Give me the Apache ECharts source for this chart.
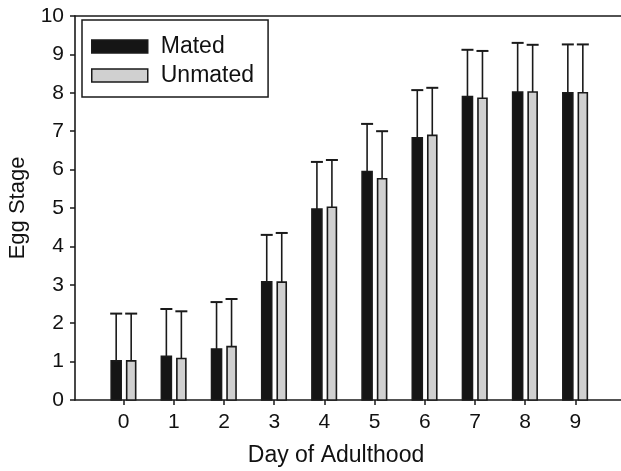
<!DOCTYPE html>
<html><head><meta charset="utf-8">
<script src="https://cdn.jsdelivr.net/npm/echarts@6/dist/echarts.min.js"></script>
<style>html,body{margin:0;padding:0;background:#fff}#c{width:621px;height:471px}</style>
</head><body><div id="c"></div>
<script>
var days = [0,1,2,3,4,5,6,7,8,9];
var matedMean = [1.02,1.14,1.33,3.08,4.97,5.95,6.83,7.90,8.02,8.00];
var matedSD   = [1.23,1.23,1.22,1.22,1.23,1.24,1.24,1.22,1.28,1.26];
var unmatedMean = [1.02,1.08,1.39,3.07,5.02,5.76,6.89,7.86,8.02,8.00];
var unmatedSD   = [1.23,1.23,1.24,1.28,1.23,1.24,1.24,1.23,1.23,1.26];
var yTicks = [0,1,2,3,4,5,6,7,8,9,10];

var FONT = '"Liberation Sans", Arial, sans-serif';
function mk(means, sds){ return days.map(function(d,i){return [d, means[i], sds[i]];}); }
function renderer(offset, fill, width){
  return function(params, api){
    var d = api.value(0), m = api.value(1), s = api.value(2);
    var base = api.coord([d, 0]);
    var top = api.coord([d, m]);
    var cap = api.coord([d, m + s]);
    var cx = base[0] + offset;
    return {type:'group', children:[
      {type:'line', shape:{x1:cx, y1:top[1], x2:cx, y2:cap[1]}, style:{stroke:'#1a1a1a', lineWidth:1.6}},
      {type:'line', shape:{x1:cx-6, y1:cap[1], x2:cx+6, y2:cap[1]}, style:{stroke:'#1a1a1a', lineWidth:2}},
      {type:'rect', shape:{x:cx-width/2, y:top[1], width:width, height:base[1]-top[1]}, style:{fill:fill, stroke:'#1a1a1a', lineWidth:1.6}}
    ]};
  };
}
var chart = echarts.init(document.getElementById('c'));
chart.setOption({
  animation:false,
  grid:{left:75, right:0, top:16, bottom:71, containLabel:false, outerBoundsMode:'none'},
  legend:{
    left:82, top:20, orient:'vertical',
    padding:[15, 14, 10, 9],
    borderColor:'#1a1a1a', borderWidth:1.5,
    itemWidth:56, itemHeight:13, itemGap:6,
    icon:'rect',
    textStyle:{fontFamily:FONT, fontSize:23, color:'#111', padding:[0,0,0,8]},
    itemStyle:{borderColor:'#1a1a1a', borderWidth:1.5},
    data:['Mated','Unmated']
  },
  xAxis:[{
    type:'value', min:-0.97, max:9.91,
    name:'Day of Adulthood', nameLocation:'middle', nameGap:44,
    nameTextStyle:{fontFamily:FONT, fontSize:23, color:'#111', padding:[0,24,0,0]},
    axisLine:{show:true, onZero:false, lineStyle:{color:'#1a1a1a', width:1.6}},
    axisTick:{show:true, customValues:days, length:5, lineStyle:{color:'#1a1a1a', width:1.5}},
    axisLabel:{customValues:days, fontFamily:FONT, fontSize:21, color:'#111', margin:12},
    splitLine:{show:false}
  },{
    type:'value', position:'top', min:-0.97, max:9.91,
    axisLine:{show:true, onZero:false, lineStyle:{color:'#1a1a1a', width:1.6}},
    axisTick:{show:false}, axisLabel:{show:false}, splitLine:{show:false}
  }],
  yAxis:{
    type:'value', min:0, max:10, interval:1,
    name:'Egg Stage', nameLocation:'middle', nameGap:46,
    nameTextStyle:{fontFamily:FONT, fontSize:22, color:'#111'},
    axisLine:{show:true, onZero:false, lineStyle:{color:'#1a1a1a', width:1.6}},
    axisTick:{show:true, inside:false, length:5, lineStyle:{color:'#1a1a1a', width:1.5}},
    axisLabel:{fontFamily:FONT, fontSize:21, color:'#111', margin:11,
      formatter:function(v){return yTicks.indexOf(v)>=0 ? String(v) : '';}},
    splitLine:{show:false}
  },
  series:[
    {name:'Mated', type:'custom', xAxisIndex:0, renderItem:renderer(-7.5, '#151515', 10), itemStyle:{color:'#151515'}, data:mk(matedMean, matedSD), encode:{x:0, y:1}},
    {name:'Unmated', type:'custom', xAxisIndex:0, renderItem:renderer(7.5, '#d0d0d0', 9), itemStyle:{color:'#d0d0d0'}, data:mk(unmatedMean, unmatedSD), encode:{x:0, y:1}}
  ]
});
</script></body></html>
